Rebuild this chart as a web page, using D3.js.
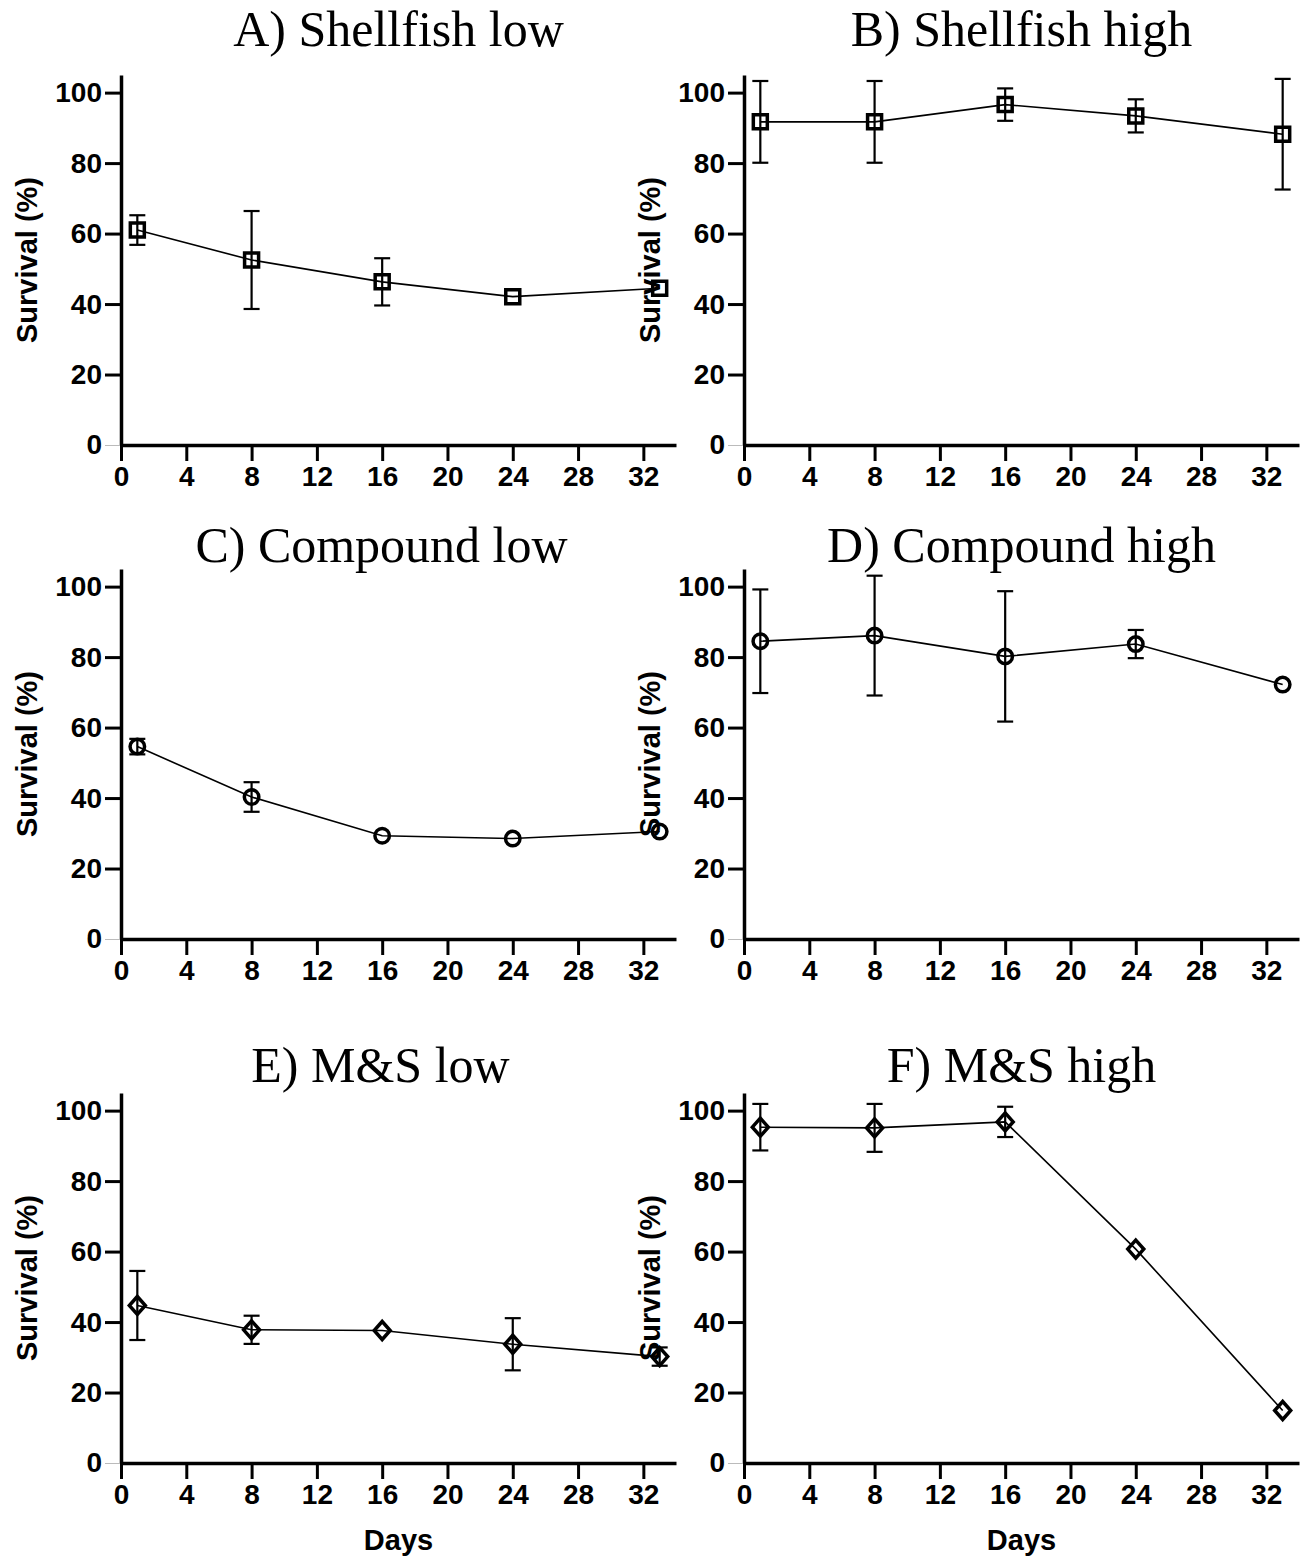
<!DOCTYPE html>
<html>
<head>
<meta charset="utf-8">
<script src="https://cdn.jsdelivr.net/npm/d3@7"></script>
<style>
  body { margin: 0; background: #fff; }
  svg { display: block; }
</style>
</head>
<body>
<svg width="1308" height="1561"></svg>
<script>
// sampling days (same for every panel)
var days = [1, 8, 16, 24, 33];
var xTicks = [0, 4, 8, 12, 16, 20, 24, 28, 32];
var yTicks = [0, 20, 40, 60, 80, 100];

var titles = ["A) Shellfish low", "B) Shellfish high", "C) Compound low",
  "D) Compound high", "E) M&S low", "F) M&S high"];
var shapes = ["square", "square", "circle", "circle", "diamond", "diamond"];

// mean survival (%) and error (±) per panel
var shellLow = [61.0, 52.5, 46.3, 42.1, 44.5];
var shellLowErr = [4.2, 13.9, 6.7, 0, 0];
var shellHigh = [91.7, 91.7, 96.6, 93.4, 88.2];
var shellHighErr = [11.6, 11.6, 4.6, 4.7, 15.7];
var compLow = [54.6, 40.3, 29.3, 28.5, 30.5];
var compLowErr = [2.2, 4.2, 0, 0, 0];
var compHigh = [84.5, 86.1, 80.2, 83.7, 72.2];
var compHighErr = [14.7, 17.0, 18.5, 4.0, 0];
var msLow = [44.7, 37.8, 37.6, 33.7, 30.2];
var msLowErr = [9.8, 4.0, 0, 7.4, 2.6];
var msHigh = [95.3, 95.1, 96.8, 60.7, 14.9];
var msHighErr = [6.6, 6.8, 4.3, 0, 0];

var means = [shellLow, shellHigh, compLow, compHigh, msLow, msHigh];
var errs = [shellLowErr, shellHighErr, compLowErr, compHighErr, msLowErr, msHighErr];

// layout
var cols = [[121, 676], [744, 1299]];
var rows = [[75, 445], [569, 939], [1093, 1463]];
var titleY = [46, 562, 1082];
var titleDx = [0, 0, -17, 0, -18, 0];

var svg = d3.select("svg");
var sans = "'Liberation Sans', Arial, sans-serif";

var symbols = {
  square: d3.symbol().type(d3.symbolSquare).size(196)(),
  circle: d3.symbol().type(d3.symbolCircle).size(165)(),
  diamond: "M0,-9L8,0L0,9L-8,0Z"
};

titles.forEach(function(title, i) {
  var c = cols[i % 2], r = rows[Math.floor(i / 2)];
  var x = d3.scaleLinear().domain([0, 34]).range(c);
  var y = d3.scaleLinear().domain([0, 105]).range([r[1], r[0]]);
  var g = svg.append("g");

  var data = days.map(function(d, j) { return { day: d, v: means[i][j], e: errs[i][j] }; });

  // title
  g.append("text")
    .attr("x", (c[0] + c[1]) / 2 + titleDx[i])
    .attr("y", titleY[Math.floor(i / 2)])
    .attr("text-anchor", "middle")
    .style("font", "50px 'Liberation Serif', 'Times New Roman', serif")
    .text(title);

  // axes
  var yAxis = g.append("g")
    .attr("transform", `translate(${c[0]},0)`)
    .call(d3.axisLeft(y).tickValues(yTicks).tickSize(16).tickSizeOuter(0).tickPadding(3));
  var xAxis = g.append("g")
    .attr("transform", `translate(0,${r[1]})`)
    .call(d3.axisBottom(x).tickValues(xTicks).tickSize(16).tickSizeOuter(0).tickPadding(5));

  [yAxis, xAxis].forEach(function(a) {
    a.select(".domain").attr("stroke", "#000").attr("stroke-width", 3.5);
    a.selectAll(".tick line").attr("stroke", "#000").attr("stroke-width", 3);
    a.selectAll(".tick text")
      .attr("fill", "#000")
      .style("font-family", sans)
      .style("font-weight", "bold")
      .style("font-size", "28px");
  });
  // the zero tick on the y axis is a thin grey line
  yAxis.selectAll(".tick").filter(function(d) { return d === 0; })
    .select("line").attr("stroke", "#bbb").attr("stroke-width", 1);

  // y axis title
  g.append("text")
    .attr("transform", `translate(${c[0] - 94},${(r[0] + r[1]) / 2}) rotate(-90)`)
    .attr("text-anchor", "middle")
    .attr("dy", "0.35em")
    .style("font", "bold 29px " + sans)
    .text("Survival (%)");

  if (i >= 4) {
    g.append("text")
      .attr("x", (c[0] + c[1]) / 2)
      .attr("y", 1550)
      .attr("text-anchor", "middle")
      .style("font", "bold 29px " + sans)
      .text("Days");
  }

  // connecting line
  g.append("path")
    .datum(data)
    .attr("fill", "none")
    .attr("stroke", "#000")
    .attr("stroke-width", 1.6)
    .attr("d", d3.line().x(function(d) { return x(d.day); }).y(function(d) { return y(d.v); }));

  // error bars
  var eb = g.selectAll(".err")
    .data(data.filter(function(d) { return d.e > 0; }))
    .enter().append("g")
    .attr("stroke", "#000")
    .attr("stroke-width", 2.2);
  eb.append("line")
    .attr("x1", function(d) { return x(d.day); })
    .attr("x2", function(d) { return x(d.day); })
    .attr("y1", function(d) { return y(d.v + d.e); })
    .attr("y2", function(d) { return y(d.v - d.e); });
  [1, -1].forEach(function(s) {
    eb.append("line")
      .attr("x1", function(d) { return x(d.day) - 8; })
      .attr("x2", function(d) { return x(d.day) + 8; })
      .attr("y1", function(d) { return y(d.v + s * d.e); })
      .attr("y2", function(d) { return y(d.v + s * d.e); });
  });

  // markers
  g.selectAll(".pt")
    .data(data)
    .enter().append("path")
    .attr("transform", function(d) { return `translate(${x(d.day)},${y(d.v)})`; })
    .attr("d", symbols[shapes[i]])
    .attr("fill", "none")
    .attr("stroke", "#000")
    .attr("stroke-width", 3.5);
});
</script>
</body>
</html>
